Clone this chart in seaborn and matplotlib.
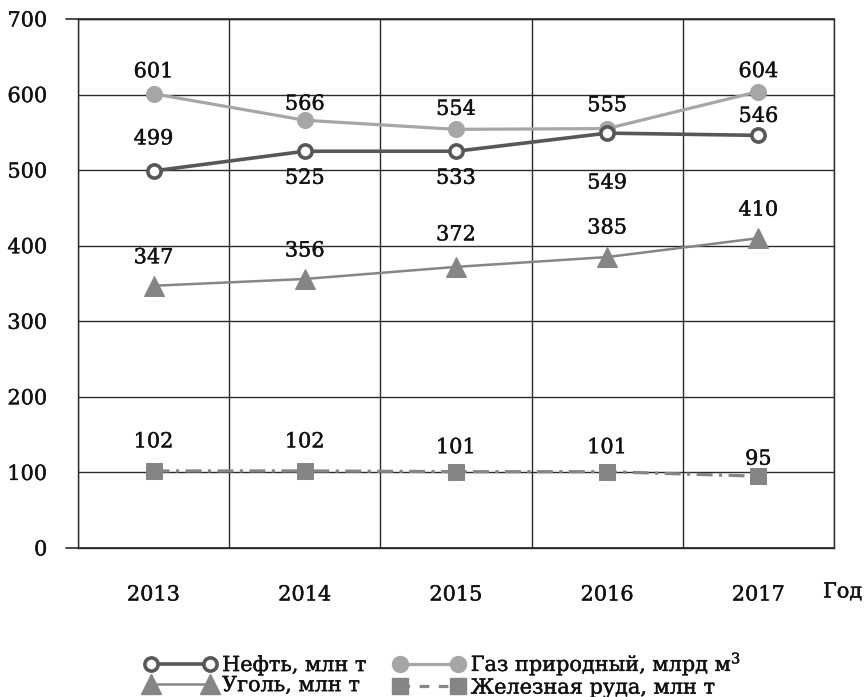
import numpy as np
import seaborn as sns
import matplotlib
import matplotlib.pyplot as plt
import matplotlib.patheffects as pe
from matplotlib.lines import Line2D
matplotlib.use('Agg')

years = ["2013", "2014", "2015", "2016", "2017"]

# values as they are drawn in the reference, and the printed labels
neft = [499, 525, 525, 549, 546]
neft_labels = [499, 525, 533, 549, 546]
gas = [601, 566, 554, 555, 604]
coal = [347, 356, 372, 385, 410]
iron = [102, 102, 101, 101, 95]

series_names = ["Нефть, млн т", "Газ природный, млрд м$^3$",
                "Уголь, млн т", "Железная руда, млн т"]

sns.set_style("white")
plt.rcParams['font.family'] = ['DejaVu Serif']
plt.rcParams['mathtext.fontset'] = 'dejavuserif'
plt.rcParams['text.color'] = '#111111'
plt.rcParams['xtick.color'] = '#111111'
plt.rcParams['ytick.color'] = '#111111'

fig = plt.figure(figsize=(8.64, 6.97), dpi=100)
ax = fig.add_axes([78 / 864, 1 - 548 / 697, 756 / 864, 529 / 697])

x = np.arange(len(years))
px = 72 / 100  # pixels -> points
heavy = [pe.withStroke(linewidth=0.3, foreground="#111111")]

NEFT_C = "#575757"
GAS_C = "#a6a6a6"
COAL_C = "#858585"
IRON_C = "#858585"

sns.lineplot(x=x, y=gas, ax=ax, color=GAS_C, lw=2.3, marker="o",
             markersize=11.5, markeredgecolor=GAS_C, zorder=4)
sns.lineplot(x=x, y=neft, ax=ax, color=NEFT_C, lw=2.6, marker="o",
             markersize=9.5, markerfacecolor="white", markeredgecolor=NEFT_C,
             markeredgewidth=2.6, zorder=5)
sns.lineplot(x=x, y=coal, ax=ax, color=COAL_C, lw=1.8, marker="^",
             markersize=14, markeredgecolor=COAL_C, zorder=4)
sns.lineplot(x=x, y=iron, ax=ax, color=IRON_C, lw=2.3, marker="s",
             markersize=11, markeredgecolor=IRON_C, zorder=4,
             dashes=False, linestyle=(0, (5, 2, 1, 2)))

# value labels (vertical offsets in pixels, negative = above)
lab_kw = dict(textcoords="offset points", ha="center", va="center",
              fontsize=15, zorder=6, path_effects=heavy)
for i, v in enumerate(gas):
    off = [-22, -16, -20, -23, -20][i]
    ax.annotate(str(v), (x[i], v), xytext=(0, -off * px), **lab_kw)
for i, v in enumerate(neft):
    off = [-32, 27, 27, 50, -19][i]
    ax.annotate(str(neft_labels[i]), (x[i], v), xytext=(0, -off * px), **lab_kw)
for i, v in enumerate(coal):
    off = [-28, -28, -32, -29, -28][i]
    ax.annotate(str(v), (x[i], v), xytext=(0, -off * px), **lab_kw)
for i, v in enumerate(iron):
    off = [-29, -29, -24, -24, -17][i]
    ax.annotate(str(v), (x[i], v), xytext=(0, -off * px), **lab_kw)

ax.set_xlim(-0.5, len(years) - 0.5)
ax.set_ylim(0, 700)
ax.set_yticks(range(0, 701, 100))
ax.set_xticks(x)
ax.set_xticklabels(years)
ax.set_xticks(np.arange(-0.5, len(years), 1.0), minor=True)
ax.tick_params(axis="x", which="major", length=0, pad=27, labelsize=15)
ax.tick_params(axis="x", which="minor", length=8, width=1.2, color="#888888",
               direction="out")
ax.tick_params(axis="y", length=0, pad=22, labelsize=15)
for lbl in ax.get_yticklabels() + ax.get_xticklabels():
    lbl.set_path_effects(heavy)
ax.set_xlabel("")
ax.set_ylabel("")

ax.grid(axis="y", which="major", color="#2a2a2a", lw=1.0)
ax.grid(axis="x", which="minor", color="#2a2a2a", lw=1.0)
ax.grid(axis="x", which="major", visible=False)
for s in ax.spines.values():
    s.set_color("#2a2a2a")
    s.set_linewidth(1.0)

# axis lines at 0 and 700 stick out to the left
for yv in (0, 700):
    ax.axhline(yv, xmin=-12 / 756, xmax=1, color="#2a2a2a", lw=1.2,
               clip_on=False, zorder=3)

fig.text(823 / 864, 1 - 592 / 697, "Год", fontsize=15, va="center",
         ha="left", path_effects=heavy)

h_neft = Line2D([], [], color=NEFT_C, lw=2.6, marker="o", markersize=9.5,
                markerfacecolor="white", markeredgecolor=NEFT_C,
                markeredgewidth=2.6)
h_gas = Line2D([], [], color=GAS_C, lw=2.3, marker="o", markersize=11.5,
               markeredgecolor=GAS_C)
h_coal = Line2D([], [], color=COAL_C, lw=1.8, marker="^", markersize=14,
                markeredgecolor=COAL_C)
h_iron = Line2D([], [], color=IRON_C, lw=2.3, marker="s", markersize=11,
                markeredgecolor=IRON_C, linestyle=(0, (3, 3)))
# column-major fill: col 1 = нефть, уголь; col 2 = газ, руда
leg = fig.legend([h_neft, h_coal, h_gas, h_iron],
                 [series_names[0], series_names[2],
                  series_names[1], series_names[3]],
                 loc="center left", bbox_to_anchor=(145 / 864, 1 - 674 / 697),
                 ncol=2, frameon=False, fontsize=15, numpoints=2,
                 handlelength=3.4, handletextpad=0.3, columnspacing=1.3,
                 labelspacing=0.05, borderpad=0, borderaxespad=0)
for t in leg.get_texts():
    t.set_path_effects(heavy)

fig.savefig("out.png", dpi=100)
